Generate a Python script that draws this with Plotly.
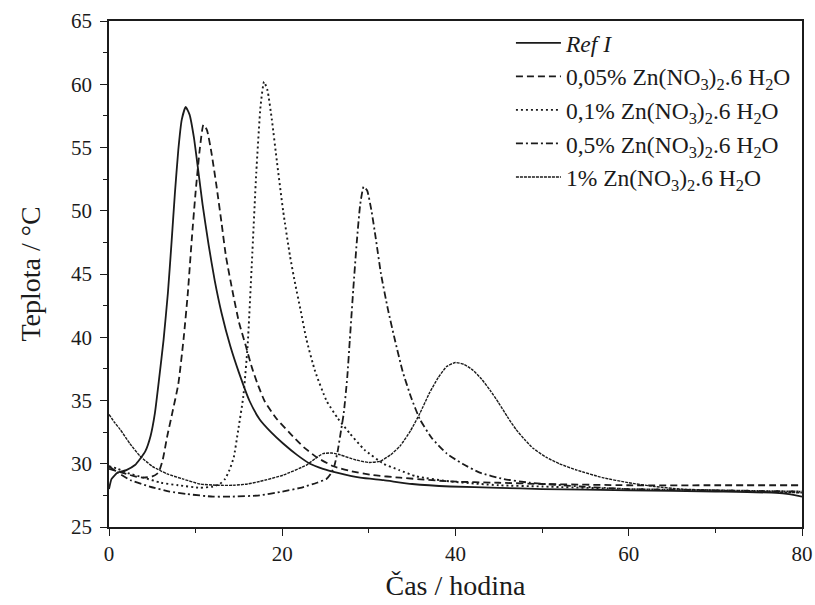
import plotly.graph_objects as go

# Temperature profiles (time in hours, temperature in °C)
ref_t = [0, 0.3, 1, 2, 3, 3.6, 4.2, 4.8, 5.3, 5.8, 6.3, 6.8, 7.2, 7.6, 8.0, 8.4, 8.85,
         9.3, 9.8, 10.3, 10.8, 11.5, 12.2, 13.0, 14.0, 15.0, 16.2, 17.4, 18.7, 20.1,
         21.7, 23.2, 24.7, 26.3, 29.0, 31.7, 35.0, 39.4, 45, 50, 60, 70, 77, 78.5, 80]
ref_y = [28.0, 28.8, 29.3, 29.5, 29.9, 30.4, 31.0, 32.2, 34.0, 36.8, 39.8, 43.5, 47.3,
         51.3, 54.8, 57.2, 58.2, 57.6, 55.8, 53.2, 50.5, 47.3, 44.5, 41.9, 39.3, 37.2,
         35.0, 33.5, 32.5, 31.6, 30.7, 30.0, 29.6, 29.3, 28.9, 28.7, 28.4, 28.2, 28.1,
         28.0, 27.9, 27.8, 27.7, 27.6, 27.4]

zn005_t = [0, 1, 2, 3, 4, 5, 5.7, 6.2, 6.7, 7.3, 8.0, 8.6, 9.1, 9.55, 10.0, 10.5, 10.9,
           11.3, 11.8, 12.4, 13.0, 13.5, 14.3, 15.0, 15.8, 16.5, 17.1, 18.0, 19.3, 20.9,
           22.5, 24.0, 25.9, 28.0, 30.5, 33.6, 39.4, 45, 50, 60, 70, 80]
zn005_y = [29.6, 29.4, 29.2, 29.0, 28.9, 29.0, 29.3, 30.3, 32.1, 34.0, 36.3, 39.8, 43.5,
           47.7, 51.5, 55.0, 56.8, 56.4, 54.7, 52.0, 49.0, 46.4, 43.5, 41.2, 39.3, 37.6,
           36.4, 34.9, 33.6, 32.4, 31.3, 30.5, 29.8, 29.4, 29.1, 28.9, 28.6, 28.5, 28.4,
           28.3, 28.3, 28.3]

zn01_t = [0, 1, 2, 4, 6, 8, 10.5, 12.0, 12.8, 13.4, 13.9, 14.4, 14.9, 15.5, 16.0, 16.5,
          17.0, 17.5, 17.9, 18.3, 18.8, 19.4, 20.1, 20.9, 21.5, 22.1, 22.8, 23.8, 25.1,
          26.4, 27.8, 29.5, 31.7, 33.5, 35.5, 39.4, 45, 50, 60, 70, 80]
zn01_y = [29.8, 29.6, 29.3, 28.9, 28.5, 28.3, 28.1, 28.2, 28.4, 28.8, 29.5, 30.5, 32.6,
          35.3, 39.3, 46.0, 53.0, 58.3, 60.2, 59.5, 57.2, 53.8, 50.0, 46.4, 44.2, 42.2,
          39.8, 37.3, 35.0, 33.6, 32.4, 31.1, 30.0, 29.5, 29.0, 28.6, 28.3, 28.2, 28.0,
          27.9, 27.8]

zn05_t = [0, 1, 2.5, 4.7, 7, 9, 12, 14, 17.4, 20, 22.1, 24, 25.1, 25.6, 26.0, 26.4, 26.8,
          27.1, 27.5, 27.8, 28.2, 28.6, 29.0, 29.4, 29.8, 30.3, 30.8, 31.4, 32.2, 33.0,
          33.9, 34.9, 35.9, 37.3, 39.0, 40.8, 42.8, 45.5, 48.6, 54.4, 60, 70, 80]
zn05_y = [29.8, 29.3, 28.7, 28.2, 27.8, 27.6, 27.4, 27.4, 27.5, 27.8, 28.1, 28.5, 28.8,
          29.2, 29.8, 31.0, 32.7, 34.0, 36.8, 39.8, 43.8, 47.5, 50.5, 51.9, 51.6, 50.0,
          47.8, 45.0, 42.2, 39.8, 37.3, 35.2, 33.5, 32.0, 30.8, 30.0, 29.3, 28.8, 28.5,
          28.2, 28.0, 27.9, 27.8]

zn1_t = [0, 0.6, 1.3, 2.4, 3.6, 5.0, 6.7, 8.5, 10.5, 12.5, 14.4, 16.0, 17.4, 20.1, 22.8,
         23.8, 24.7, 25.7, 26.7, 28.5, 30.0, 31.3, 32.5, 33.6, 34.8, 35.9, 37.0, 38.0,
         39.0, 40.0, 41.0, 42.0, 43.0, 44.0, 45.0, 46.0, 47.0, 48.0, 49.0, 50.5, 52.0,
         54.0, 57.0, 60.0, 63.0, 66.0, 70.0, 75.0, 80.0]
zn1_y = [33.9, 33.3, 32.7, 31.6, 30.6, 29.8, 29.2, 28.8, 28.4, 28.3, 28.3, 28.4, 28.6,
         29.1, 29.9, 30.4, 30.8, 30.85, 30.7, 30.3, 30.1, 30.2, 30.7, 31.4, 32.6, 34.0,
         35.6, 36.8, 37.7, 38.0, 37.85, 37.4, 36.7, 35.8, 34.8, 33.7, 32.7, 31.9, 31.2,
         30.5, 30.0, 29.5, 28.9, 28.5, 28.2, 28.0, 27.9, 27.8, 27.7]

names = [
    "<i>Ref I</i>",
    "0,05% Zn(NO<sub>3</sub>)<sub>2</sub>.6 H<sub>2</sub>O",
    "0,1% Zn(NO<sub>3</sub>)<sub>2</sub>.6 H<sub>2</sub>O",
    "0,5% Zn(NO<sub>3</sub>)<sub>2</sub>.6 H<sub>2</sub>O",
    "1% Zn(NO<sub>3</sub>)<sub>2</sub>.6 H<sub>2</sub>O",
]

series = [
    (ref_t, ref_y, "solid", 1.8),
    (zn005_t, zn005_y, "7px,4px", 1.8),
    (zn01_t, zn01_y, "2px,3px", 1.9),
    (zn05_t, zn05_y, "7px,3px,2px,3px", 1.8),
    (zn1_t, zn1_y, "3px,1px", 1.4),
]

FONT = "Liberation Serif"
INK = "#1b1b1b"

fig = go.Figure()
for name, (t, y, dash, w) in zip(names, series):
    fig.add_trace(go.Scatter(
        x=t, y=y, mode="lines", name=name,
        line=dict(color=INK, width=w, dash=dash, shape="spline", smoothing=0.5),
    ))

axis_common = dict(
    showgrid=False, zeroline=False, showline=True, linecolor=INK, linewidth=1.6,
    ticks="outside", tickcolor=INK, tickwidth=1.4, ticklen=7,
    tickfont=dict(family=FONT, size=21, color=INK), automargin=False,
)

fig.update_layout(
    width=815, height=605,
    margin=dict(l=109, r=13, t=21, b=78),
    paper_bgcolor="white", plot_bgcolor="white",
    font=dict(family=FONT, color=INK),
    xaxis=dict(
        **axis_common, range=[0, 80], dtick=20, mirror=True, ticklabelstandoff=0,
        minor=dict(dtick=10, ticks="outside", ticklen=4, tickcolor=INK, tickwidth=1.4),
        title=dict(text="Čas / hodina", font=dict(family=FONT, size=28, color=INK), standoff=10),
    ),
    yaxis=dict(
        **axis_common, range=[25, 65], dtick=5, mirror=True, ticklabelstandoff=4,
        minor=dict(dtick=2.5, ticks="outside", ticklen=4, tickcolor=INK, tickwidth=1.4),
        title=dict(text="Teplota / °C", font=dict(family=FONT, size=28, color=INK), standoff=22),
    ),
    xaxis2=dict(
        overlaying="x", side="top", range=[0, 80], dtick=20, showgrid=False, zeroline=False,
        showline=False, showticklabels=False, ticks="inside", ticklen=7, tickwidth=1.4,
        tickcolor=INK, automargin=False,
        minor=dict(dtick=10, ticks="inside", ticklen=4, tickcolor=INK, tickwidth=1.4),
    ),
    yaxis2=dict(
        overlaying="y", side="right", range=[25, 65], dtick=5, showgrid=False, zeroline=False,
        showline=False, showticklabels=False, ticks="inside", ticklen=7, tickwidth=1.4,
        tickcolor=INK, automargin=False,
        minor=dict(dtick=2.5, ticks="inside", ticklen=4, tickcolor=INK, tickwidth=1.4),
    ),
    legend=dict(
        x=0.58, y=1.0, xanchor="left", yanchor="top",
        bgcolor="rgba(0,0,0,0)", borderwidth=0,
        font=dict(family=FONT, size=23.5, color=INK),
        itemwidth=45, tracegroupgap=0,
    ),
    showlegend=True,
)

fig.write_html("out.html")
